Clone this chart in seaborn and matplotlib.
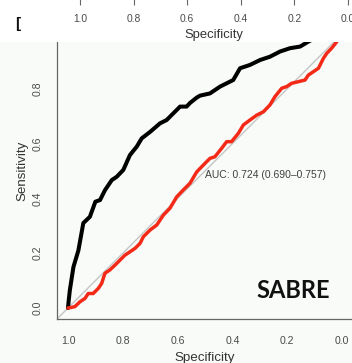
import numpy as np
import pandas as pd
import matplotlib
matplotlib.use("Agg")
import matplotlib.pyplot as plt
from matplotlib.patches import Rectangle
import seaborn as sns

# ROC curves (specificity runs 1 -> 0)
black_spec = [1.0, 0.997, 0.993, 0.98, 0.962, 0.944, 0.92, 0.90, 0.883, 0.865, 0.84,
              0.822, 0.798, 0.774, 0.749, 0.731, 0.70, 0.664, 0.64, 0.616, 0.591,
              0.567, 0.555, 0.53, 0.518, 0.482, 0.445, 0.397, 0.372, 0.336, 0.299,
              0.263, 0.226, 0.19, 0.153, 0.123, 0.07, 0.0]
black_sens = [0.0, 0.03, 0.066, 0.15, 0.21, 0.31, 0.333, 0.388, 0.394, 0.43, 0.467,
              0.479, 0.504, 0.558, 0.589, 0.619, 0.643, 0.674, 0.686, 0.71, 0.735,
              0.735, 0.748, 0.768, 0.775, 0.783, 0.808, 0.832, 0.875, 0.887, 0.905,
              0.917, 0.936, 0.948, 0.954, 0.972, 1.0, 1.0]

red_spec = [1.0, 0.975, 0.956, 0.938, 0.926, 0.908, 0.889, 0.877, 0.865, 0.847, 0.828,
            0.81, 0.792, 0.774, 0.755, 0.737, 0.725, 0.70, 0.676, 0.652, 0.628, 0.603,
            0.579, 0.555, 0.53, 0.50, 0.482, 0.464, 0.439, 0.421, 0.403, 0.378, 0.36,
            0.336, 0.311, 0.287, 0.263, 0.245, 0.22, 0.202, 0.184, 0.159, 0.135, 0.123,
            0.105, 0.086, 0.068, 0.056, 0.038, 0.019, 0.0]
red_sens = [0.0, 0.005, 0.023, 0.035, 0.053, 0.053, 0.072, 0.09, 0.127, 0.139, 0.157,
            0.175, 0.193, 0.205, 0.218, 0.236, 0.26, 0.285, 0.303, 0.339, 0.364, 0.406,
            0.431, 0.455, 0.497, 0.528, 0.546, 0.552, 0.583, 0.607, 0.607, 0.638, 0.668,
            0.686, 0.704, 0.716, 0.741, 0.771, 0.802, 0.808, 0.82, 0.826, 0.832, 0.85,
            0.862, 0.875, 0.911, 0.929, 0.948, 0.972, 1.0]

ticks = [1.0, 0.8, 0.6, 0.4, 0.2, 0.0]
tick_labels = ["1.0", "0.8", "0.6", "0.4", "0.2", "0.0"]
auc_text = "AUC: 0.724 (0.690\u20130.757)"

sns.set_style("white")
plt.rcParams['font.family'] = ['Liberation Sans', 'DejaVu Sans']

W, H = 352, 363
fig = plt.figure(figsize=(W / 100, H / 100), dpi=100)
bg = "#F8FBF8"
fig.set_facecolor(bg)

ax = fig.add_axes([57 / W, 44 / H, 296 / W, 296 / H])
ax.set_facecolor(bg)
ax.set_xlim(1.04, -0.04)
ax.set_ylim(-0.04, 1.04)

ax.plot([1.04, -0.04], [-0.04, 1.04], color="#C4C4C4", lw=1.0, zorder=1)

df_black = pd.DataFrame({"spec": black_spec, "sens": black_sens})
df_red = pd.DataFrame({"spec": red_spec, "sens": red_sens})
sns.lineplot(data=df_black, x="spec", y="sens", sort=False, estimator=None,
             color="black", lw=2.9, ax=ax, zorder=3)
sns.lineplot(data=df_red, x="spec", y="sens", sort=False, estimator=None,
             color="#F42A18", lw=2.5, ax=ax, zorder=3)

ax.text(0.5, 0.485, auc_text, fontsize=7.5, color="#404040", ha="left", va="center")

for s in ["top", "right"]:
    ax.spines[s].set_visible(False)
for s in ["left", "bottom"]:
    ax.spines[s].set_color("#666666")
    ax.spines[s].set_linewidth(0.9)

ax.set_xticks(ticks)
ax.set_xticklabels(tick_labels)
ax.set_yticks(ticks[::-1])
ax.set_yticklabels(tick_labels[::-1])
ax.tick_params(axis="both", length=4.3, width=0.8, color="#666666",
               labelsize=7.6, labelcolor="#4a4a4a", direction="out")
ax.tick_params(axis="x", pad=8)
ax.tick_params(axis="y", pad=6)
for lab in ax.get_yticklabels():
    lab.set_rotation(90)
    lab.set_va("center")
ax.set_xlabel("Specificity", fontsize=9.6, color="#333333", labelpad=4)
ax.set_ylabel("Sensitivity", fontsize=9.6, color="#333333", labelpad=3)

# white strip of the plot above, covering the top of this one
strip = Rectangle((0, 1 - 42 / H), 1, 42 / H, transform=fig.transFigure,
                  facecolor="white", edgecolor="none", zorder=5)
fig.add_artist(strip)

ax2 = fig.add_axes([(80 - 0.04 * 268) / W, 1 + 1 / H, 1.08 * 268 / W, 0.05])
ax2.set_zorder(10)
ax2.patch.set_visible(False)
for s in ax2.spines.values():
    s.set_visible(False)
ax2.set_xlim(1.04, -0.04)
ax2.set_yticks([])
ax2.set_xticks(ticks)
ax2.set_xticklabels(tick_labels)
ax2.tick_params(axis="x", bottom=True, length=4.5, width=0.8, color="#666666",
                labelsize=7.4, labelcolor="#4a4a4a", pad=6)
ax2.set_xlabel("Specificity", fontsize=9.4, color="#333333", labelpad=4)

fig.text(18 / W, 1 - 24 / H, "[", fontsize=11, fontweight="bold", color="#111111",
         ha="center", va="center", zorder=11)
fig.text(293 / W, 1 - 290 / H, "SABRE", fontsize=17, fontweight="bold", color="#111111",
         family="Lato", ha="center", va="center", zorder=11)

fig.savefig("out.png", dpi=100, facecolor=fig.get_facecolor())
